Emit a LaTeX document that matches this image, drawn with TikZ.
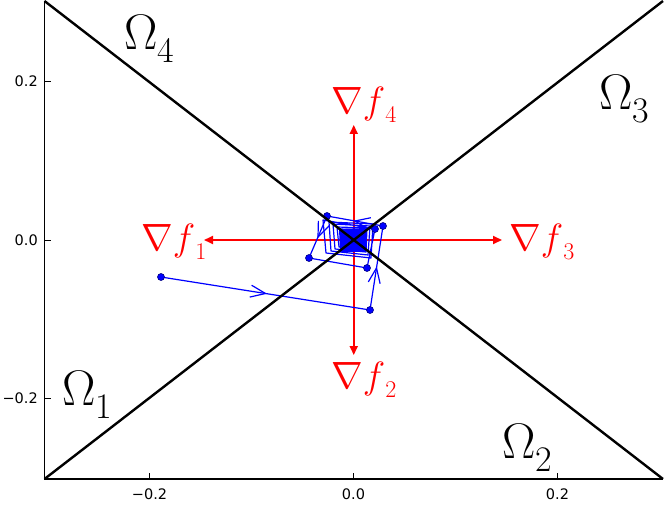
\RequirePackage{fix-cm}
\documentclass[tikz,border=0pt]{standalone}
\usepackage{fontspec}
\newfontfamily\tickfont{DejaVu Sans}
\usetikzlibrary{arrows.meta,decorations.markings}
\begin{document}
\begin{tikzpicture}[x=1pt,y=-1pt,
  spine/.style={black,line width=1.2pt},
  tickmark/.style={black,line width=0.8pt},
  ticklab/.style={font=\tickfont\fontsize{14.5}{14.5}\selectfont,inner sep=0pt},
  diag/.style={black,line width=2.4pt},
  grad/.style={red,line width=2pt,-{Triangle[length=9pt,width=8pt]}},
  glab/.style={red,font=\fontsize{38}{38}\selectfont,inner sep=0pt,anchor=base west},
  olab/.style={black,font=\fontsize{50}{50}\selectfont,inner sep=0pt,anchor=base west},
  traj/.style={blue,line width=1.2pt,line join=round},
  chev/.style={traj,postaction={decorate},decoration={markings,mark=at position 0.5 with {\draw[blue,line width=1.2pt,line join=miter] (-15pt,6pt) -- (0pt,0pt) -- (-15pt,-6pt);}}},
  dot/.style={circle,fill=blue,draw=blue!50!black,line width=0.6pt,inner sep=0pt,minimum size=7pt}
]
\useasboundingbox (0,0) rectangle (664,505);
% frame corners
\coordinate (tl) at (44.5,1);
\coordinate (bl) at (44.5,479);
\coordinate (br) at (663,479);
\coordinate (tr) at (663,1);
\coordinate (O) at (353.75,240);
% gradient arrows
\coordinate (g1) at (204,240);
\coordinate (g3) at (502,240);
\coordinate (g4) at (353.75,125);
\coordinate (g2) at (353.75,355);
\draw[grad] (O) -- (g1);
\draw[grad] (O) -- (g3);
\draw[grad] (O) -- (g4);
\draw[grad] (O) -- (g2);
% trajectory points
\coordinate (P0) at (161,277);
\coordinate (P1) at (370,310);
\coordinate (P5) at (383,226);
\coordinate (P4) at (327,216);
\coordinate (P3) at (309,258);
\coordinate (P2) at (367,268);
\coordinate (P6) at (375,229);
\draw[chev] (P0) -- (P1);
\draw[chev] (P1) -- (P5);
\draw[chev] (P5) -- (P4);
\draw[chev] (P4) -- (P3);
\draw[traj] (P3) -- (P2) -- (P6) -- (323,220) -- (326,253) -- (371,258) -- (373,224)
  -- (329,222) -- (331,251) -- (368,255) -- (370,226) -- (333,224) -- (335,249)
  -- (366,252) -- (367,228) -- (337,227) -- (339,247) -- (364,249) -- (365,230) -- (340,229);
\fill[blue] (339,229) -- (366,228) -- (366,252) -- (340,252) -- cycle;
\foreach \p in {P0,P1,P2,P3,P4,P5,P6} \node[dot] (d\p) at (\p) {};
% diagonals and axes
\draw[diag] (bl) -- (tr);
\draw[diag] (tl) -- (br);
\draw[spine] (tl) -- (bl) -- (br);
% ticks
\foreach \x in {149.5,353.5,557.5} \draw[tickmark] (\x,479) -- (\x,473);
\foreach \y in {81.5,240,398.5} \draw[tickmark] (44.5,\y) -- (50.5,\y);
\node[ticklab,anchor=base] (xa) at (149.5,499) {−0.2};
\node[ticklab,anchor=base] (xb) at (353.5,499) {0.0};
\node[ticklab,anchor=base] (xc) at (557.5,499) {0.2};
\node[ticklab,anchor=east] (ya) at (38,81.5) {0.2};
\node[ticklab,anchor=east] (yb) at (38,240) {0.0};
\node[ticklab,anchor=east] (yc) at (38,398.5) {−0.2};
% gradient labels
\node[glab] (L4) at (331,114) {$\nabla f$\raisebox{-9pt}{\fontsize{24}{24}\selectfont 4}};
\node[glab] (L1) at (141,251) {$\nabla f$\raisebox{-9pt}{\fontsize{24}{24}\selectfont 1}};
\node[glab] (L3) at (509,251) {$\nabla f$\raisebox{-9pt}{\fontsize{24}{24}\selectfont 3}};
\node[glab] (L2) at (331,388) {$\nabla f$\raisebox{-9pt}{\fontsize{24}{24}\selectfont 2}};
% region labels
\node[olab] (O4) at (124,50) {$\Omega$\raisebox{-13pt}{\fontsize{36}{36}\selectfont 4}};
\node[olab] (O3) at (599,110) {$\Omega$\raisebox{-13pt}{\fontsize{36}{36}\selectfont 3}};
\node[olab] (O1) at (62,405) {$\Omega$\raisebox{-13pt}{\fontsize{36}{36}\selectfont 1}};
\node[olab] (O2) at (502,458) {$\Omega$\raisebox{-13pt}{\fontsize{36}{36}\selectfont 2}};
\end{tikzpicture}
\end{document}
